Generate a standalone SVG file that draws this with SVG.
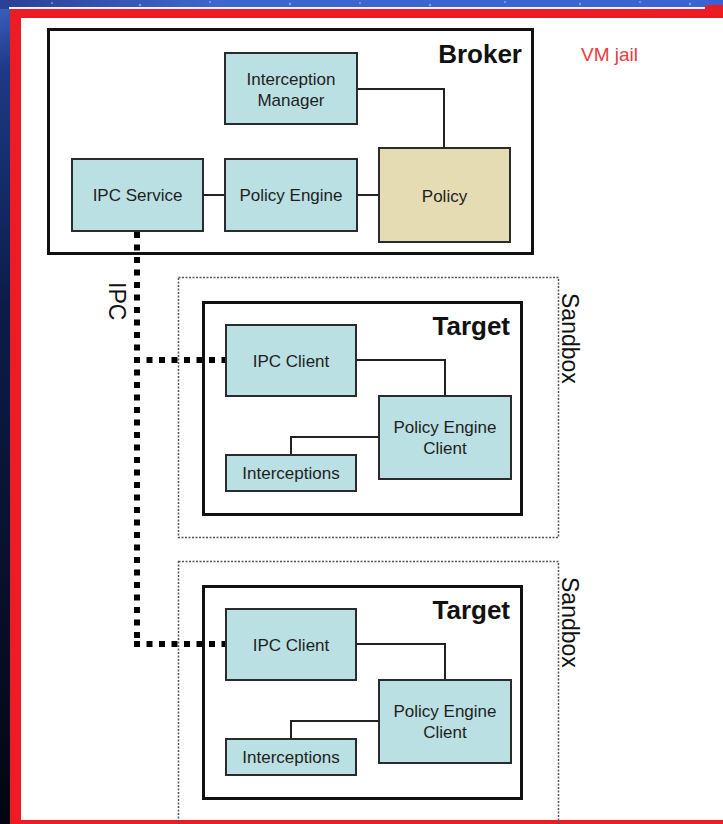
<svg xmlns="http://www.w3.org/2000/svg" width="723" height="824" viewBox="0 0 723 824">
  <defs>
    <linearGradient id="space" x1="0" y1="0" x2="0.25" y2="1">
      <stop offset="0" stop-color="#3d62c4"/>
      <stop offset="0.08" stop-color="#1d3a86"/>
      <stop offset="0.35" stop-color="#0c1c4a"/>
      <stop offset="1" stop-color="#02040c"/>
    </linearGradient>
    <linearGradient id="sky" x1="0" y1="0" x2="1" y2="0">
      <stop offset="0" stop-color="#2a3f96"/>
      <stop offset="0.3" stop-color="#3f66cc"/>
      <stop offset="1" stop-color="#3b63d0"/>
    </linearGradient>
    <style>
      .node { fill: #bbe0e3; stroke: #2b2b2b; stroke-width: 2; }
      .policy { fill: #e6dcb4; stroke: #2b2b2b; stroke-width: 2; }
      .frame { fill: #ffffff; stroke: #111111; stroke-width: 3; }
      .sandbox { fill: none; stroke: #555555; stroke-width: 1.5; stroke-dasharray: 2 1.5; }
      .label { font-family: "Liberation Sans", Arial, sans-serif; font-size: 17px; fill: #1e1e1e; text-anchor: middle; }
      .title { font-family: "Liberation Sans", Arial, sans-serif; font-size: 26px; font-weight: bold; fill: #111111; text-anchor: end; }
      .side { font-family: "Liberation Sans", Arial, sans-serif; font-size: 23px; fill: #111111; }
      .link { fill: none; stroke: #222222; stroke-width: 2; }
      .ipc { fill: none; stroke: #000000; stroke-width: 6; stroke-dasharray: 6 6.5; }
    </style>
  </defs>

  <!-- backdrop and red border of the slide -->
  <rect x="0" y="0" width="723" height="824" fill="url(#space)"/>
  <rect x="0" y="0" width="723" height="9" fill="url(#sky)"/>
  <g fill="#9fb8f0" opacity="0.7">
    <circle cx="52" cy="3" r="1"/><circle cx="140" cy="5" r="1.2"/><circle cx="210" cy="2" r="1"/>
    <circle cx="290" cy="4" r="1.3"/><circle cx="360" cy="3" r="1"/><circle cx="430" cy="5" r="1.2"/>
    <circle cx="505" cy="2" r="1"/><circle cx="580" cy="4" r="1.2"/><circle cx="640" cy="2" r="1"/>
    <circle cx="690" cy="4" r="1.2"/>
  </g>
  <rect x="9" y="7" width="700" height="2" fill="#f4f4f8"/>
  <rect x="10" y="9" width="713" height="815" fill="#ed1c24"/>
  <rect x="705" y="5" width="18" height="5" fill="#ed1c24"/>
  <rect x="21" y="18" width="702" height="802" fill="#ffffff"/>

  <text x="581" y="61" font-family="Liberation Sans, Arial, sans-serif" font-size="19" fill="#ea3a40">VM jail</text>

  <!-- sandbox boundaries -->
  <g id="sandbox1">
    <rect class="sandbox" x="178.5" y="277.5" width="380" height="260"/>
    <text class="side" transform="translate(562,293) rotate(90)">Sandbox</text>
  </g>
  <g id="sandbox2">
    <rect class="sandbox" x="178.5" y="561.5" width="380" height="270"/>
    <text class="side" transform="translate(562,577) rotate(90)">Sandbox</text>
  </g>

  <!-- broker process -->
  <g id="broker">
    <rect class="frame" x="48.5" y="29.5" width="484" height="224"/>
    <text class="title" x="522" y="63">Broker</text>
  </g>
  <g id="target1">
    <rect class="frame" x="203.5" y="302.5" width="318" height="212"/>
    <text class="title" x="510" y="335">Target</text>
  </g>
  <g id="target2">
    <rect class="frame" x="203.5" y="586.5" width="318" height="212"/>
    <text class="title" x="510" y="619">Target</text>
  </g>

  <!-- connectors -->
  <g id="connectors">
    <path class="link" d="M357 89 H444 V148"/>
    <path class="link" d="M203 195 H225"/>
    <path class="link" d="M357 195 H379"/>
    <path class="link" d="M356 360 H445 V396"/>
    <path class="link" d="M291 455 V437 H379"/>
    <path class="link" d="M356 644 H445 V680"/>
    <path class="link" d="M291 739 V721 H379"/>
    <path class="ipc" d="M137 232 V647"/>
    <path class="ipc" d="M134 360 H226"/>
    <path class="ipc" d="M134 644 H226"/>
    <text class="side" font-size="24" transform="translate(109,282) rotate(90)">IPC</text>
  </g>

  <!-- broker components -->
  <g id="interception-manager">
    <rect class="node" x="225" y="53" width="132" height="71"/>
    <text class="label" x="291" y="85">Interception</text>
    <text class="label" x="291" y="106">Manager</text>
  </g>
  <g id="ipc-service">
    <rect class="node" x="72" y="159" width="131" height="72"/>
    <text class="label" x="137.5" y="201">IPC Service</text>
  </g>
  <g id="policy-engine">
    <rect class="node" x="225" y="159" width="132" height="72"/>
    <text class="label" x="291" y="201">Policy Engine</text>
  </g>
  <g id="policy">
    <rect class="policy" x="379" y="148" width="131" height="94"/>
    <text class="label" x="444.5" y="202">Policy</text>
  </g>

  <!-- first target components -->
  <g id="ipc-client1">
    <rect class="node" x="226" y="325" width="130" height="71"/>
    <text class="label" x="291" y="367">IPC Client</text>
  </g>
  <g id="policy-engine-client1">
    <rect class="node" x="379" y="396" width="132" height="83"/>
    <text class="label" x="445" y="433">Policy Engine</text>
    <text class="label" x="445" y="454">Client</text>
  </g>
  <g id="interceptions1">
    <rect class="node" x="226" y="455" width="130" height="36"/>
    <text class="label" x="291" y="479">Interceptions</text>
  </g>

  <!-- second target components -->
  <g id="ipc-client2">
    <rect class="node" x="226" y="609" width="130" height="71"/>
    <text class="label" x="291" y="651">IPC Client</text>
  </g>
  <g id="policy-engine-client2">
    <rect class="node" x="379" y="680" width="132" height="83"/>
    <text class="label" x="445" y="717">Policy Engine</text>
    <text class="label" x="445" y="738">Client</text>
  </g>
  <g id="interceptions2">
    <rect class="node" x="226" y="739" width="130" height="36"/>
    <text class="label" x="291" y="763">Interceptions</text>
  </g>
</svg>
